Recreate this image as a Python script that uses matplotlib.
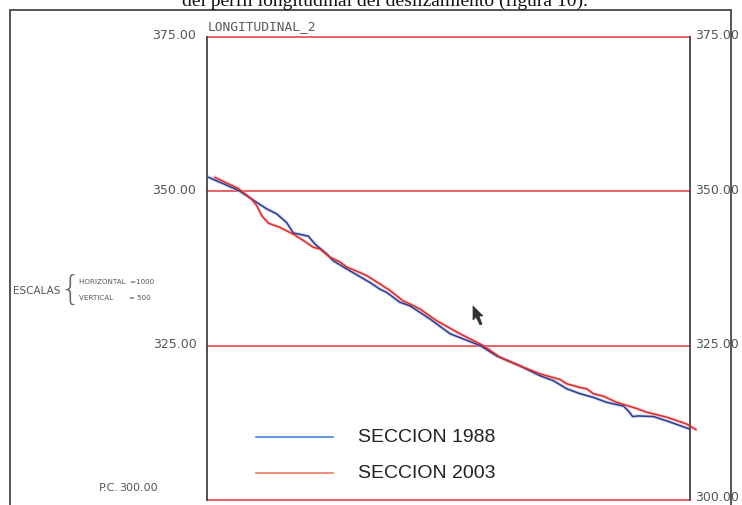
import matplotlib
matplotlib.use("Agg")
import matplotlib.pyplot as plt
from matplotlib.patches import Rectangle, Polygon

# Longitudinal profile: distance along section (m) and ground elevation (m)
dist_1988 = [0.6, 10.4, 14.4, 19.3, 22.5, 25.7, 27.9, 32.7, 34.9, 38.7, 40.8, 45.1,
             52.6, 55.9, 58.0, 62.3, 65.6, 72.0, 78.5, 88.2, 93.6, 101.1, 107.6,
             111.9, 116.2, 120.5, 124.8, 129.1, 134.5, 136.1, 137.5, 139.3, 144.2,
             148.5, 155.8]
elev_1988 = [352.2, 350.05, 348.7, 347.1, 346.3, 344.9, 343.2, 342.7, 341.4, 339.8,
             338.7, 337.4, 335.2, 334.1, 333.6, 332.0, 331.4, 329.3, 326.9, 325.0,
             323.3, 321.7, 320.1, 319.3, 318.0, 317.2, 316.6, 315.8, 315.2, 314.4,
             313.5, 313.6, 313.5, 312.8, 311.5]

dist_2003 = [2.6, 10.1, 14.4, 16.1, 17.7, 19.8, 23.6, 27.9, 31.1, 34.3, 36.5, 39.7,
             43.0, 45.1, 49.4, 51.6, 55.9, 59.1, 63.4, 65.6, 68.8, 74.2, 81.7, 89.2,
             94.6, 101.1, 107.6, 114.0, 116.2, 120.5, 122.6, 124.8, 128.0, 132.3,
             138.8, 142.0, 148.5, 154.9, 157.9]
elev_2003 = [352.2, 350.4, 348.7, 347.6, 346.0, 344.8, 344.1, 343.0, 342.0, 340.9,
             340.6, 339.3, 338.5, 337.7, 336.8, 336.3, 334.95, 333.9, 332.2, 331.7,
             330.9, 329.0, 326.9, 325.0, 323.1, 321.7, 320.4, 319.5, 318.8, 318.2,
             318.0, 317.2, 316.8, 315.8, 314.8, 314.2, 313.4, 312.3, 311.4]

elev_levels = [300, 325, 350, 375]
level_labels = ["300.00", "325.00", "350.00", "375.00"]
legend_labels = ["SECCION 1988", "SECCION 2003"]

W, H = 742, 506
fig = plt.figure(figsize=(W / 100, H / 100), dpi=100)
fig.patch.set_facecolor("white")

def fx(px):
    return px / W

def fy(py):
    return 1 - py / H

ax = fig.add_axes([fx(207), fy(501), fx(690) - fx(207), fy(37.5) - fy(501)])
ax.set_xlim(0, 156)
ax.set_ylim(300, 375)
ax.set_xticks([])
ax.set_yticks([])
for side in ("left", "right"):
    ax.spines[side].set_color("#444444")
    ax.spines[side].set_linewidth(1.3)
for side in ("top", "bottom"):
    ax.spines[side].set_visible(False)

grid_red = "#e8474a"
for lv in elev_levels:
    ax.axhline(lv, color=grid_red, lw=1.2, clip_on=False, zorder=1)

ax.plot(dist_1988, elev_1988, color="#9aa6d8", lw=2.4, alpha=0.5, clip_on=False, zorder=2)
ax.plot(dist_1988, elev_1988, color="#2c3c94", lw=1.1, clip_on=False, zorder=3)
ax.plot(dist_2003, elev_2003, color="#f2a0a0", lw=2.4, alpha=0.5, clip_on=False, zorder=2)
ax.plot(dist_2003, elev_2003, color="#e02a2a", lw=1.1, clip_on=False, zorder=4)

# Elevation labels on both sides of the profile
label_col = "#555555"
ytr = ax.get_yaxis_transform()
for lv, lab in zip(elev_levels, level_labels):
    if lv == 300:
        ax.text(-0.101, lv + 2.1, lab, transform=ytr,
                ha="right", va="center", fontsize=8, color=label_col)
        ax.text(-0.224, lv + 2.1, "P.C.", transform=ytr,
                ha="left", va="center", fontsize=8, color=label_col)
        ax.text(1.01, lv + 0.6, lab, transform=ytr,
                ha="left", va="center", fontsize=9, color=label_col)
    else:
        ax.text(-0.022, lv + 0.25, lab, transform=ytr,
                ha="right", va="center", fontsize=9, color=label_col)
        ax.text(1.01, lv + 0.25, lab, transform=ytr,
                ha="left", va="center", fontsize=9, color=label_col)

# Drawing title
fig.text(fx(208), fy(27), "LONGITUDINAL_2", ha="left", va="center",
         fontsize=9.3, color="#5a5a5a", family="DejaVu Sans Mono")

# Scale note
fig.text(fx(13), fy(291), "ESCALAS", ha="left", va="center", fontsize=7.5, color="#555555")
fig.text(fx(70), fy(290), "{", ha="center", va="center", fontsize=24, color="#666666",
         fontweight="light")
fig.text(fx(79), fy(282), "HORIZONTAL  =1000", ha="left", va="center", fontsize=5.1,
         color="#555555")
fig.text(fx(79), fy(298), "VERTICAL       = 500", ha="left", va="center", fontsize=5.1,
         color="#555555")

# Legend
fig.add_artist(plt.Line2D([fx(256), fx(333)], [fy(438), fy(438)], color="#3b8ad6", lw=1.2))
fig.add_artist(plt.Line2D([fx(256), fx(333)], [fy(474), fy(474)], color="#ea7a62", lw=1.2))
fig.text(fx(358), fy(438), legend_labels[0], ha="left", va="center", fontsize=14,
         color="#222222", family="Liberation Sans")
fig.text(fx(358), fy(474), legend_labels[1], ha="left", va="center", fontsize=14,
         color="#222222", family="Liberation Sans")

# Sheet frame
fig.add_artist(Rectangle((fx(10), fy(530)), fx(731) - fx(10), fy(11) - fy(530),
                         transform=fig.transFigure, fill=False, ec="#555555", lw=1.4,
                         clip_on=False))

# Caption line above the sheet
fig.text(fx(385), fy(6), "del perfil longitudinal del deslizamiento (figura 10).",
         ha="center", va="baseline", fontsize=14, color="#111111",
         family="Liberation Serif")

# Pointer arrow
arrow_px = [(473, 307), (473, 321), (476, 318), (480, 326), (482, 325), (479, 317), (483, 317)]
fig.add_artist(Polygon([(fx(a), fy(b)) for a, b in arrow_px], closed=True,
                       transform=fig.transFigure, fc="#333333", ec="#333333", lw=0.5))

fig.savefig("out.png", dpi=100)
